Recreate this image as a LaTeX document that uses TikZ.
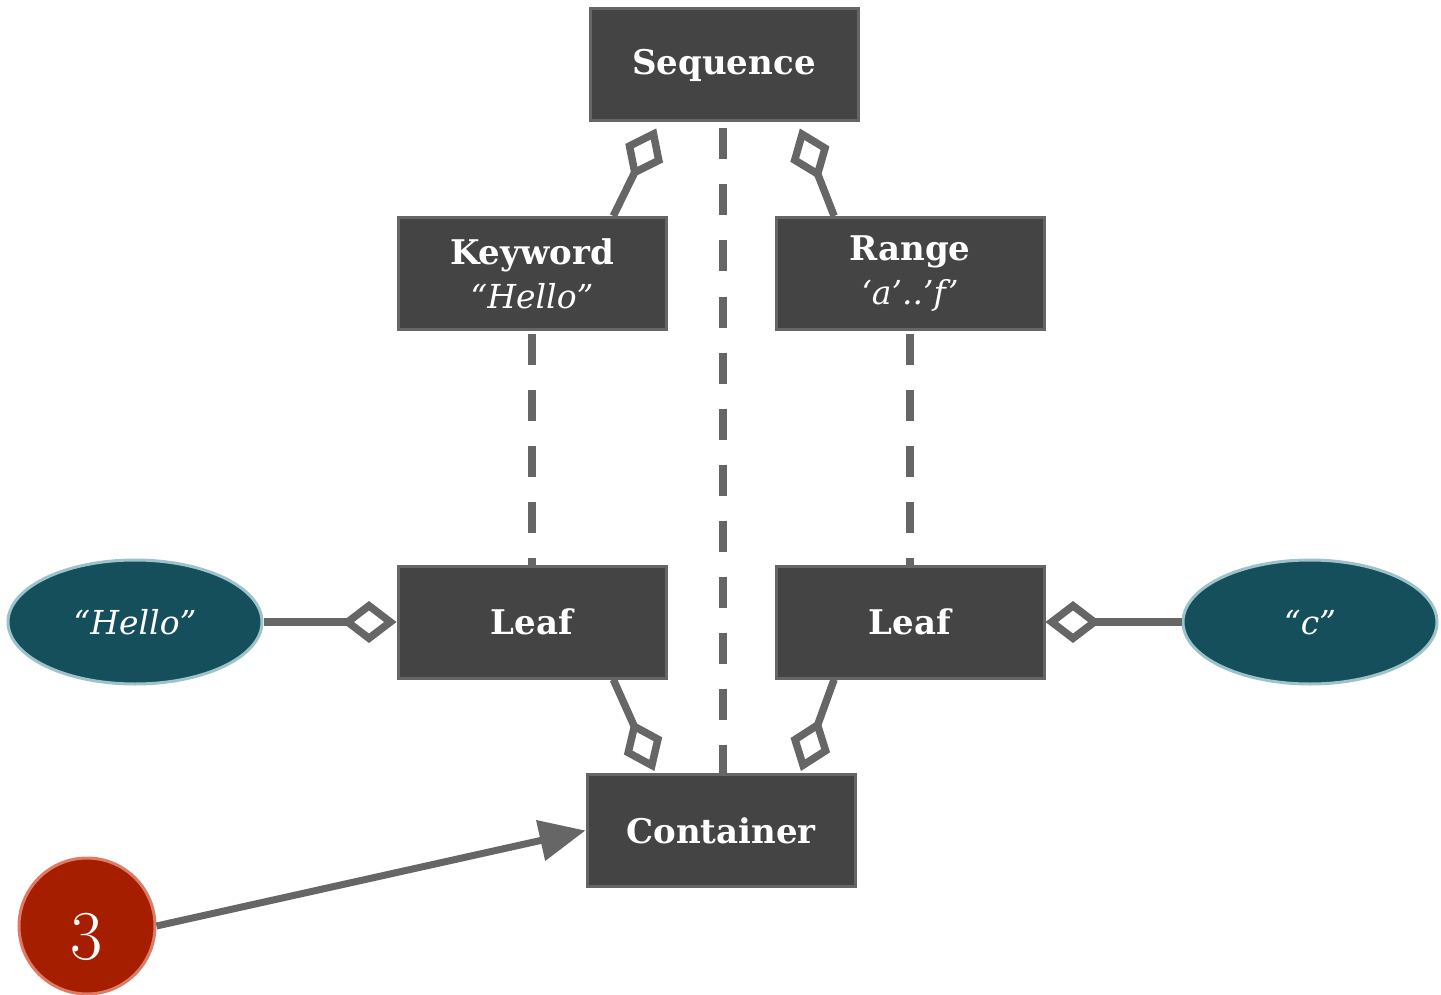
\documentclass[tikz,border=0pt]{standalone}
\usepackage{fontspec}
\setmainfont{DejaVu Serif}
\newfontfamily\digitfont{Latin Modern Roman}
\usetikzlibrary{arrows.meta,calc,shapes.geometric}
\definecolor{boxfill}{HTML}{444444}
\definecolor{edgecol}{HTML}{666666}
\definecolor{leaffill}{HTML}{164F5C}
\definecolor{leafline}{HTML}{9CC3C9}
\definecolor{markfill}{HTML}{A61E00}
\definecolor{markline}{HTML}{DF7A66}
\begin{document}
\begin{tikzpicture}[x=1pt,y=-1pt,
  box/.style={draw=edgecol, fill=boxfill, line width=3pt, minimum width=268pt,
    minimum height=112pt, inner sep=0pt, text=white, align=center,
    font=\fontsize{34}{44}\selectfont},
  value/.style={ellipse, draw=leafline, fill=leaffill, line width=3pt,
    minimum width=254pt, minimum height=124pt, inner sep=0pt, text=white,
    font=\fontsize{33}{38}\selectfont\itshape},
  badge/.style={circle, draw=markline, fill=markfill, line width=3pt,
    minimum size=136pt, inner sep=0pt},
  badgetext/.style={text=white, font=\digitfont\fontsize{70}{70}\selectfont},
  link/.style={draw=edgecol, line width=7.5pt},
  agg/.style={link, -{Diamond[open, length=55pt, width=42pt]}},
  aggstart/.style={link, {Diamond[open, length=55pt, width=42pt]}-},
  dep/.style={link, line width=8pt, dash pattern=on 31pt off 25pt},
  pointer/.style={link, line width=7pt, -{Triangle[length=46pt, width=40pt]}}]
\useasboundingbox (0,0) rectangle (1441,995);

% structure nodes
\node[box] (seq) at (724,65) {\bfseries Sequence};
\node[box] (kw) at (532,273.5) {{\bfseries Keyword}\\{\fontsize{33}{44}\selectfont\itshape “Hello”}};
\node[box] (rng) at (910,273.5) {{\bfseries Range}\\{\fontsize{33}{44}\selectfont\itshape ‘a’..’f’}};
\node[box] (leafL) at (532,622) {\bfseries Leaf};
\node[box] (leafR) at (910,622) {\bfseries Leaf};
\node[box] (cont) at (721,830.5) {\bfseries Container};

% literal values
\node[value] (hello) at (135,622) {“Hello”};
\node[value] (cval) at (1310,622) {“c”};

% step marker
\node[badge] (three) at (87,926) {};
\node[badgetext] (threelabel) at (87,937) {3};

% aggregation links
\draw[agg] ($(kw.north west)!0.8!(kw.north east)$) -- ($(seq.south west)!0.25!(seq.south east)+(0,6)$);
\draw[agg] ($(rng.north west)!0.22!(rng.north east)$) -- ($(seq.south west)!0.78!(seq.south east)+(0,6)$);
\draw[agg] ($(leafL.south west)!0.8!(leafL.south east)$) -- ($(cont.north west)!0.254!(cont.north east)+(0,-2)$);
\draw[agg] ($(leafR.south west)!0.22!(leafR.south east)$) -- ($(cont.north west)!0.795!(cont.north east)+(0,-2)$);
\draw[agg] (hello.east) -- (leafL.west);
\draw[aggstart] (leafR.east) -- (cval.west);

% dependency links
\coordinate (depTop) at ($(seq.south)+(-1.5,6)$);
\draw[dep] (depTop) -- (depTop |- cont.north);
\draw[dep] ($(kw.south)+(0,3)$) -- (leafL.north);
\draw[dep] ($(rng.south)+(0,3)$) -- (leafR.north);

% pointer to the container
\draw[pointer] (three.east) -- (cont.west);
\end{tikzpicture}
\end{document}
